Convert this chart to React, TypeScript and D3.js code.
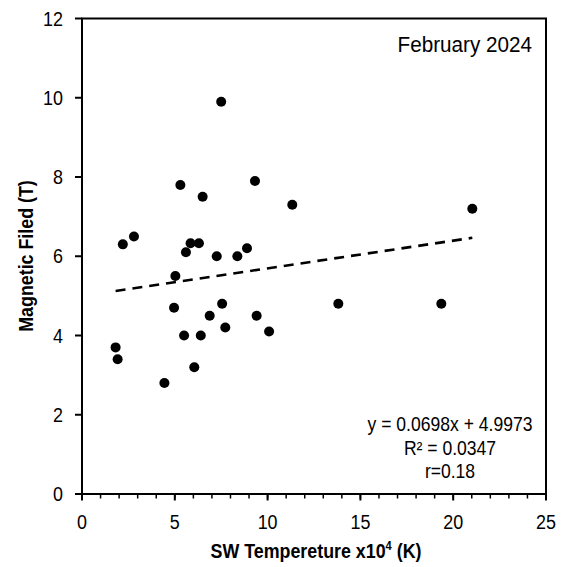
import React from "react";
import * as d3 from "d3";

const tempValues = [7.5, 5.3, 6.5, 2.8, 2.2, 5.85, 6.3, 5.6, 7.26, 5.03, 4.96, 7.55, 6.88, 7.72, 5.5, 6.4, 1.81, 1.92, 6.05, 4.44, 9.32, 11.33, 8.89, 8.37, 13.81, 9.41, 10.08, 21.03, 19.36];
const fieldValues = [9.9, 7.8, 7.5, 6.5, 6.3, 6.33, 6.33, 6.1, 6.0, 5.5, 4.7, 4.8, 4.5, 4.2, 4.0, 4.0, 3.7, 3.4, 3.2, 2.8, 7.9, 7.3, 6.2, 6.0, 4.8, 4.5, 4.1, 7.2, 4.8];
const xTicks = [0, 5, 10, 15, 20, 25];
const yTicks = [0, 2, 4, 6, 8, 10, 12];
const slope = 0.0698;
const intercept = 4.9973;
const eqLines = ["y = 0.0698x + 4.9973", "R² = 0.0347", "r=0.18"];
const titleText = "February 2024";

const W = 562, H = 567;
const L = 82, R = 546, T = 18.5, B = 494;
const FONT = "'Liberation Sans', Arial, sans-serif";

export default function App() {
  const x = d3.scaleLinear().domain([0, 25]).range([L, R]);
  const y = d3.scaleLinear().domain([0, 12]).range([B, T]);
  const minorX = d3.range(0, 26, 1);
  const xMin = d3.min(tempValues) as number;
  const xMax = d3.max(tempValues) as number;
  const line = d3.line<number>().x((d) => x(d)).y((d) => y(slope * d + intercept));

  const txt = (s: string, tx: number, ty: number, size: number, sx: number, anchor: string, bold = false, rot = 0, key?: any) => (
    <text key={key ?? s + tx + ty} transform={`translate(${tx},${ty}) rotate(${rot}) scale(${sx},1)`} fontSize={size} fontFamily={FONT} fontWeight={bold ? "bold" : "normal"} textAnchor={anchor as any} fill="#000">{s}</text>
  );

  return (
    <svg width={W} height={H} style={{ position: "absolute", left: 0, top: 0, background: "#fff" }}>
      <rect x={0} y={0} width={W} height={H} fill="#fff" />
      {/* minor x ticks */}
      {minorX.map((v) => (
        <line key={"mx" + v} x1={x(v)} x2={x(v)} y1={B} y2={B + 4.5} stroke="#000" strokeWidth={1.5} />
      ))}
      {xTicks.map((v) => (
        <line key={"Mx" + v} x1={x(v)} x2={x(v)} y1={B} y2={B + 6.5} stroke="#000" strokeWidth={2} />
      ))}
      {yTicks.map((v) => (
        <line key={"My" + v} x1={L - 7} x2={L} y1={y(v)} y2={y(v)} stroke="#000" strokeWidth={2} />
      ))}
      {/* plot box */}
      <rect x={L} y={T} width={R - L} height={B - T} fill="none" stroke="#000" strokeWidth={2} />
      {/* tick labels */}
      {yTicks.map((v) => txt(String(v), 63, y(v) + 7, 19.5, 0.92, "end", false, 0, "yl" + v))}
      {xTicks.map((v) => txt(String(v), x(v), 528.5, 19.5, 0.92, "middle", false, 0, "xl" + v))}
      {/* trend line */}
      <path d={line([xMin, xMax]) as string} fill="none" stroke="#000" strokeWidth={2.6} strokeDasharray="10,7" />
      {/* points */}
      {tempValues.map((t, i) => (
        <circle key={"p" + i} cx={x(t)} cy={y(fieldValues[i])} r={5} fill="#000" />
      ))}
      {/* title */}
      {txt(titleText, 532, 52, 22, 0.94, "end")}
      {/* equation */}
      {eqLines.map((s, i) => txt(s, 450, 431 + i * 23.5, 19.5, 0.9, "middle", false, 0, "eq" + i))}
      {/* axis titles */}
      <text transform={`translate(316,558) scale(0.85,1)`} fontSize={21} fontFamily={FONT} fontWeight="bold" textAnchor="middle" fill="#000">
        SW Tempereture x10<tspan fontSize={13} dy={-8}>4</tspan><tspan dy={8}> (K)</tspan>
      </text>
      {txt("Magnetic Filed (T)", 33, 256, 21, 0.85, "middle", true, -90)}
    </svg>
  );
}
